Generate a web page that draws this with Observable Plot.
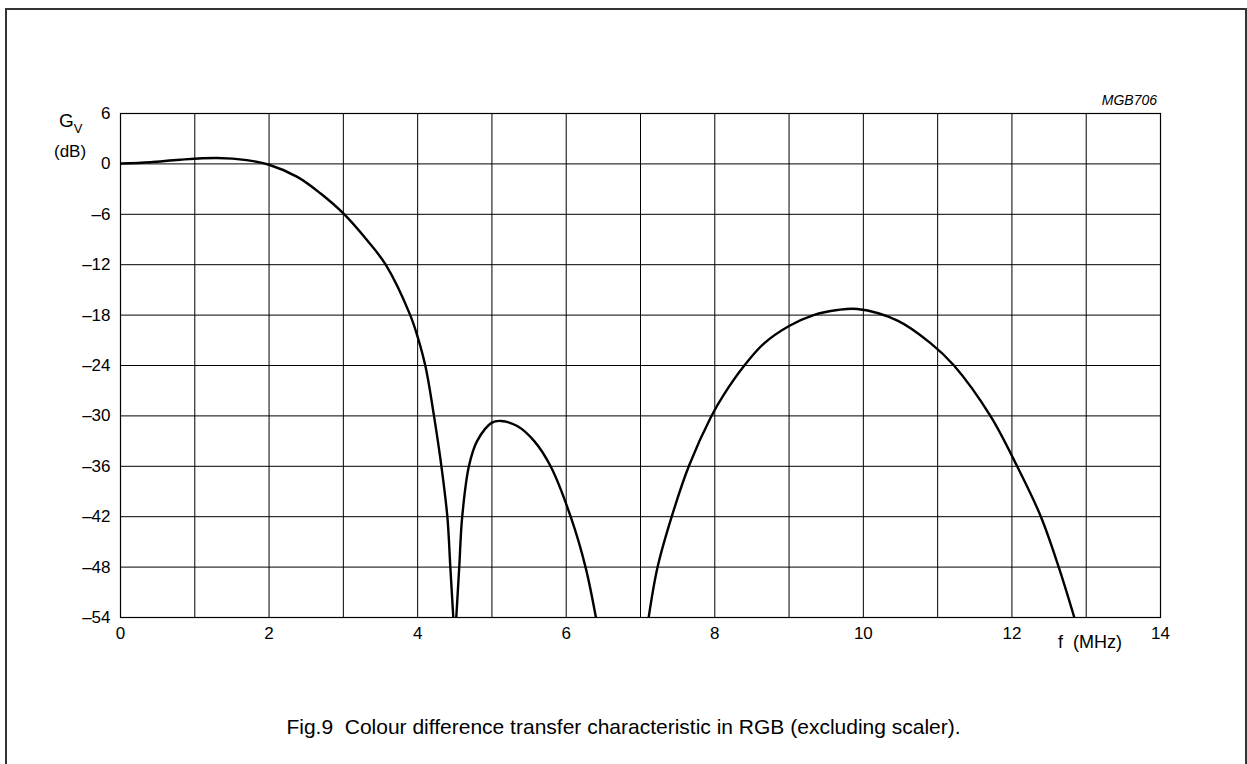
<!DOCTYPE html>
<html>
<head>
<meta charset="utf-8">
<script src="https://cdn.jsdelivr.net/npm/d3@7"></script>
<script src="https://cdn.jsdelivr.net/npm/@observablehq/plot@0.6"></script>
<style>
  html, body { margin: 0; padding: 0; background: #fff; }
  body { width: 1247px; height: 764px; position: relative; overflow: hidden; font-family: "Liberation Sans", Arial, sans-serif; color: #000; }
  #border { position: absolute; left: 5px; top: 8px; width: 1242px; height: 800px; border: 2px solid #333; border-bottom: none; box-sizing: border-box; }
  #chart { position: absolute; left: 0; top: 0; }
  .lbl { position: absolute; white-space: pre; line-height: 1; }
</style>
</head>
<body>
<div id="border"></div>
<div id="chart"></div>
<div class="lbl" style="left:59px; top:111px; font-size:19px;">G<sub style="font-size:13px; vertical-align:-6px;">V</sub></div>
<div class="lbl" style="left:54px; top:143px; font-size:17px;">(dB)</div>
<div class="lbl" style="right:90px; top:93px; font-size:14px; font-style:italic;">MGB706</div>
<div class="lbl" style="left:1058px; top:633px; font-size:18px;">f  (MHz)</div>
<div class="lbl" style="left:0; width:1247px; top:716px; font-size:21px; text-align:center;">Fig.9  Colour difference transfer characteristic in RGB (excluding scaler).</div>
<script>
// Frequency (MHz) and gain (dB), three lobes
const lobe1X = [0, 0.4, 0.8, 1.3, 1.7, 2.0, 2.38, 2.69, 3.0, 3.32, 3.57, 3.9, 4.0, 4.11, 4.22, 4.32, 4.40, 4.44, 4.48];
const lobe1Y = [0.05, 0.2, 0.5, 0.7, 0.45, -0.1, -1.55, -3.5, -5.9, -9.1, -12, -18, -20.6, -24.3, -30, -36, -42, -48, -54];
const lobe2X = [4.52, 4.56, 4.60, 4.69, 4.80, 5.0, 5.12, 5.34, 5.57, 5.79, 6.06, 6.26, 6.40];
const lobe2Y = [-54, -48, -42, -36, -33.0, -30.8, -30.6, -31.2, -33.0, -36, -42, -48, -54];
const lobe3X = [7.11, 7.23, 7.42, 7.65, 7.95, 8.12, 8.39, 8.66, 9.0, 9.33, 9.65, 9.92, 10.46, 10.9, 11.22, 11.71, 12.07, 12.39, 12.63, 12.84];
const lobe3Y = [-54, -48, -42, -36, -30.1, -27.5, -24.1, -21.4, -19.3, -18.0, -17.4, -17.27, -18.65, -21.3, -24, -30, -36, -42, -48, -54];

const xTickLabels = [0, 2, 4, 6, 8, 10, 12, 14];
const xGrid = [0, 1, 2, 3, 4, 5, 6, 7, 8, 9, 10, 11, 12, 13, 14];
const yTickLabels = [6, 0, -6, -12, -18, -24, -30, -36, -42, -48, -54];

const data = [];
[[lobe1X, lobe1Y], [lobe2X, lobe2Y], [lobe3X, lobe3Y]].forEach(([xs, ys], i) => {
  xs.forEach((x, j) => data.push({f: x, g: ys[j], lobe: i}));
});

const fmt = d => String(d).replace("-", "\u2013");

const chart = Plot.plot({
  width: 1247,
  height: 680,
  marginLeft: 120,
  marginRight: 87,
  marginTop: 113,
  marginBottom: 63,
  style: {fontFamily: "'Liberation Sans', Arial, sans-serif", fontSize: "17px", color: "#000", background: "transparent", overflow: "visible"},
  x: {domain: [0, 14]},
  y: {domain: [-54, 6]},
  marks: [
    Plot.gridX(xGrid, {stroke: "#000", strokeOpacity: 1, strokeWidth: 1}),
    Plot.gridY(yTickLabels, {stroke: "#000", strokeOpacity: 1, strokeWidth: 1}),
    Plot.frame({stroke: "#000", strokeWidth: 1.2}),
    Plot.axisX(xTickLabels, {tickSize: 0, tickPadding: 9, tickFormat: fmt, label: null, fontSize: 17}),
    Plot.axisY(yTickLabels, {tickSize: 0, tickPadding: 10, tickFormat: fmt, label: null, fontSize: 17}),
    Plot.line(data, {x: "f", y: "g", z: "lobe", stroke: "#000", strokeWidth: 2.4, curve: "catmull-rom", clip: true})
  ]
});
document.getElementById("chart").appendChild(chart);
</script>
</body>
</html>
